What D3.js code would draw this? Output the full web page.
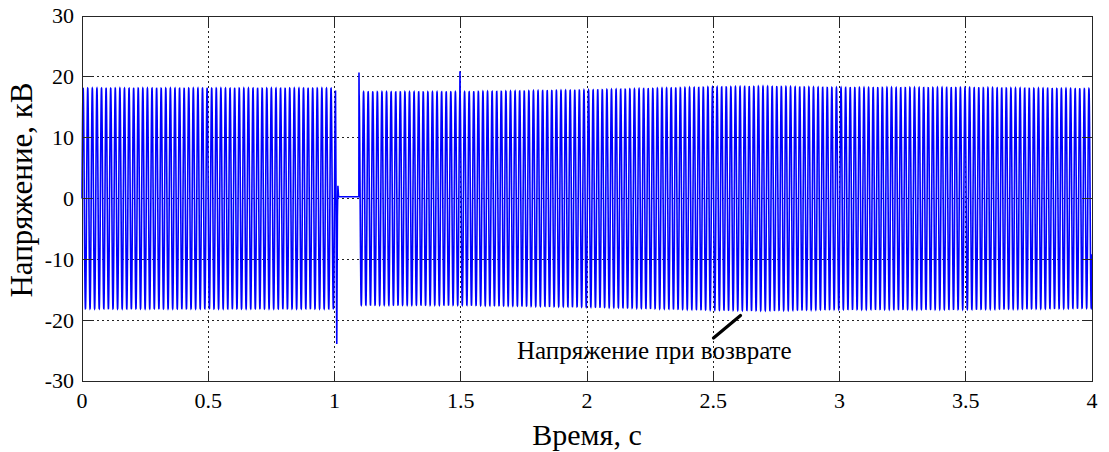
<!DOCTYPE html>
<html>
<head>
<meta charset="utf-8">
<script src="https://cdn.jsdelivr.net/npm/d3@7"></script>
<style>
  html, body { margin: 0; padding: 0; background: #fff; }
  svg { display: block; }
</style>
</head>
<body>
<svg id="chart" width="1109" height="452"></svg>
<script>
// Axis ticks
const xTicks = [0, 0.5, 1, 1.5, 2, 2.5, 3, 3.5, 4];
const xTickLabels = ["0", "0.5", "1", "1.5", "2", "2.5", "3", "3.5", "4"];
const yTicks = [-30, -20, -10, 0, 10, 20, 30];
const yTickLabels = ["-30", "-20", "-10", "0", "10", "20", "30"];

// Supply frequency of the voltage waveform, Hz
const signalHz = 55;

// Peak voltage envelope (kV) over time (s)
const envelopeT = [0, 1.0, 1.1, 1.5, 2.0, 2.5, 2.7, 3.0, 3.5, 4.0];
const envelopeKV = [18.1, 18.1, 17.5, 17.5, 17.8, 18.3, 18.4, 18.2, 18.2, 18.0];

// Disconnection and reclosing instants, s
const tripTime = 1.004;
const recloseTime = 1.0975;

// Transient during the dead time: time (s) and voltage (kV)
const transientT = [1.009, 1.0115, 1.0135, 1.016, 1.0965, 1.097];
const transientKV = [-23.9, -3.0, 2.1, 0.3, 0.3, 20.7];

// Single overvoltage spike after reclosing
const spikeT = [1.497];
const spikeKV = [20.9];

// Annotation
const noteText = "Напряжение при возврате";

const FONT = '"Liberation Serif", serif';

const svg = d3.select("#chart");
const W = 1109, H = 452;
const margin = { left: 82, right: 1092, top: 16, bottom: 381 };

const x = d3.scaleLinear().domain([0, 4]).range([margin.left, margin.right]);
const y = d3.scaleLinear().domain([-30, 30]).range([margin.bottom, margin.top]);
const envelope = d3.scaleLinear().domain(envelopeT).range(envelopeKV);

svg.append("rect").attr("width", W).attr("height", H).attr("fill", "#fff");

// Grid
const grid = svg.append("g").attr("stroke", "#222").attr("stroke-width", 1)
  .attr("stroke-dasharray", "2,3").attr("shape-rendering", "crispEdges");
xTicks.slice(1, -1).forEach(v => {
  grid.append("line").attr("x1", x(v)).attr("x2", x(v))
    .attr("y1", margin.top).attr("y2", margin.bottom);
});
yTicks.slice(1, -1).forEach(v => {
  grid.append("line").attr("y1", y(v)).attr("y2", y(v))
    .attr("x1", margin.left).attr("x2", margin.right);
});

// Voltage waveform samples
const dt = 1e-4;
const pts = [];
const omega = 2 * Math.PI * signalHz;
for (let t = 0; t <= tripTime + 1e-9; t += dt) {
  pts.push([t, envelope(t) * Math.sin(omega * t)]);
}
transientT.forEach((t, i) => pts.push([t, transientKV[i]]));
const phase = Math.PI / 2 - omega * transientT[transientT.length - 1];
for (let t = recloseTime; t <= 4 + 1e-9; t += dt) {
  const near = spikeT.some(s => Math.abs(t - s) < 0.0006);
  if (!near) pts.push([t, envelope(t) * Math.sin(omega * t + phase)]);
}
spikeT.forEach((t, i) => pts.push([t, spikeKV[i]]));
pts.sort((a, b) => a[0] - b[0]);

const line = d3.line().x(d => x(d[0])).y(d => y(d[1]));
svg.append("path").datum(pts)
  .attr("d", line)
  .attr("fill", "none")
  .attr("stroke", "#0000ff")
  .attr("stroke-width", 1.6);

// Axes box with inward ticks on all four sides
const tickLen = 10;
const axisG = svg.append("g").attr("stroke", "#262626").attr("stroke-width", 1)
  .attr("shape-rendering", "crispEdges");
axisG.append("rect")
  .attr("x", margin.left).attr("y", margin.top)
  .attr("width", margin.right - margin.left).attr("height", margin.bottom - margin.top)
  .attr("fill", "none");
xTicks.forEach(v => {
  axisG.append("line").attr("x1", x(v)).attr("x2", x(v))
    .attr("y1", margin.bottom).attr("y2", margin.bottom - tickLen);
  axisG.append("line").attr("x1", x(v)).attr("x2", x(v))
    .attr("y1", margin.top).attr("y2", margin.top + tickLen);
});
yTicks.forEach(v => {
  axisG.append("line").attr("y1", y(v)).attr("y2", y(v))
    .attr("x1", margin.left).attr("x2", margin.left + tickLen);
  axisG.append("line").attr("y1", y(v)).attr("y2", y(v))
    .attr("x1", margin.right).attr("x2", margin.right - tickLen);
});

// Tick labels
xTicks.forEach((v, i) => {
  svg.append("text").attr("x", x(v)).attr("y", 408)
    .style("font-family", FONT)
    .attr("text-anchor", "middle").attr("font-size", 22)
    .text(xTickLabels[i]);
});
yTicks.forEach((v, i) => {
  svg.append("text").attr("x", 74).attr("y", y(v)).attr("dy", "0.34em")
    .style("font-family", FONT)
    .attr("text-anchor", "end").attr("font-size", 22)
    .text(yTickLabels[i]);
});

// Axis titles
svg.append("text").attr("x", x(2)).attr("y", 445)
  .style("font-family", FONT)
  .attr("text-anchor", "middle").attr("font-size", 30)
  .text("Время, с");
svg.append("text")
  .attr("transform", "translate(32, 190) rotate(-90)")
  .style("font-family", FONT)
  .attr("text-anchor", "middle").attr("font-size", 31)
  .text("Напряжение, кВ");

// Annotation with pointer
svg.append("line")
  .attr("x1", 713.5).attr("y1", 338).attr("x2", 740.5).attr("y2", 315.5)
  .attr("stroke", "#000").attr("stroke-width", 3.2).attr("stroke-linecap", "round");
svg.append("text").attr("x", 517).attr("y", 359)
  .style("font-family", FONT)
  .attr("font-size", 25)
  .text(noteText);
</script>
</body>
</html>
